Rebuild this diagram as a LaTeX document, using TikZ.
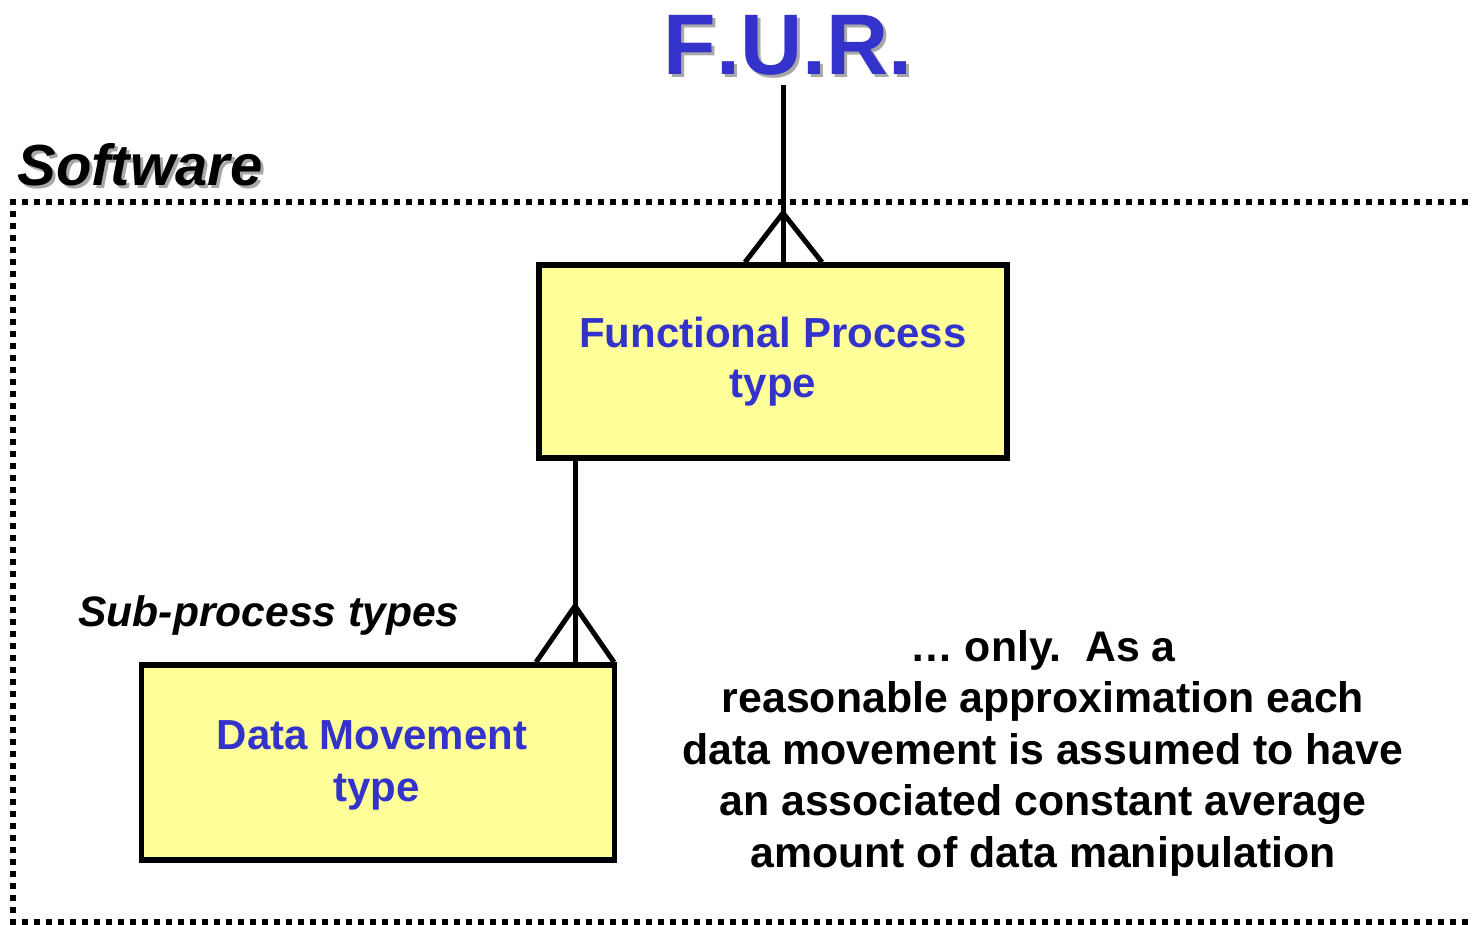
\documentclass[tikz,border=0pt]{standalone}
\usepackage{fontspec}
\setmainfont{Liberation Sans}
\definecolor{furblue}{HTML}{3333CC}
\definecolor{boxyellow}{HTML}{FFFF99}
\definecolor{shade}{HTML}{A8A8A8}

% text with a grey drop shadow set 3pt right and 3pt down
\newcommand{\shadowed}[1]{\makebox[0pt][l]{\kern3pt\raisebox{-3pt}{\textcolor{shade}{#1}}}#1}

\begin{document}
\begin{tikzpicture}[x=1pt,y=-1pt,
  entity/.style={draw=black, line width=5.5pt, fill=boxyellow, inner sep=0pt,
    text=furblue, font=\bfseries\fontsize{42}{50}\selectfont, align=center},
  link/.style={line width=5pt, line cap=butt},
  boundary/.style={line width=5.5pt, dash pattern=on 6pt off 6pt},
  plain/.style={inner sep=0pt, outer sep=0pt}]
\useasboundingbox (0,0) rectangle (1473,925);

% software boundary (open on the right)
\draw[boundary] (1480,202) -- (13,202) -- (13,922) -- (1480,922);

% titles
\node[plain, anchor=base, text=furblue, font=\bfseries\fontsize{86}{86}\selectfont\addfontfeatures{Kerning=Off}] (fur) at (788,75) {\shadowed{F.U.R.}};
\node[plain, anchor=base, font=\bfseries\itshape\fontsize{58}{58}\selectfont] (sw) at (140,186) {\shadowed{Software}};

% entities
\node[entity, minimum width=468pt, minimum height=193pt] (fp) at (773,361.5) {Functional Process\\type};
\node[entity, minimum width=473pt, minimum height=195pt] (dm) at (378,762.5) {};
\node[plain, text=furblue, font=\bfseries\fontsize{42}{52}\selectfont, align=center] (dmtext) at (372,765) {Data Movement\\\hspace*{9pt}type};

% labels
\node[plain, anchor=base, font=\bfseries\itshape\fontsize{42.6}{42.6}\selectfont] (sub) at (269,626) {Sub-process types};
\node[plain, align=center, font=\bfseries\fontsize{42.8}{51.5}\selectfont] (note) at (1043,753)
  {… only.\ \ As a\\reasonable approximation each\\data movement is assumed to have\\an associated constant average\\amount of data manipulation};

% F.U.R. to Functional Process: one-to-many
\coordinate (furfoot) at (783,85);
\coordinate (fpfork) at (783,213);
\draw[link] (furfoot) -- (fp.north -| furfoot);
\draw[link] (fp.north -| 745,0) -- (fpfork) -- (fp.north -| 822,0);

% Functional Process to Data Movement: one-to-many
\coordinate (dmline) at (575,0);
\coordinate (dmfork) at (575,606);
\draw[link] (fp.south -| dmline) -- (dm.north -| dmline);
\draw[link] (dm.north -| 536,0) -- (dmfork) -- (dm.north -| 614,0);
\end{tikzpicture}
\end{document}
